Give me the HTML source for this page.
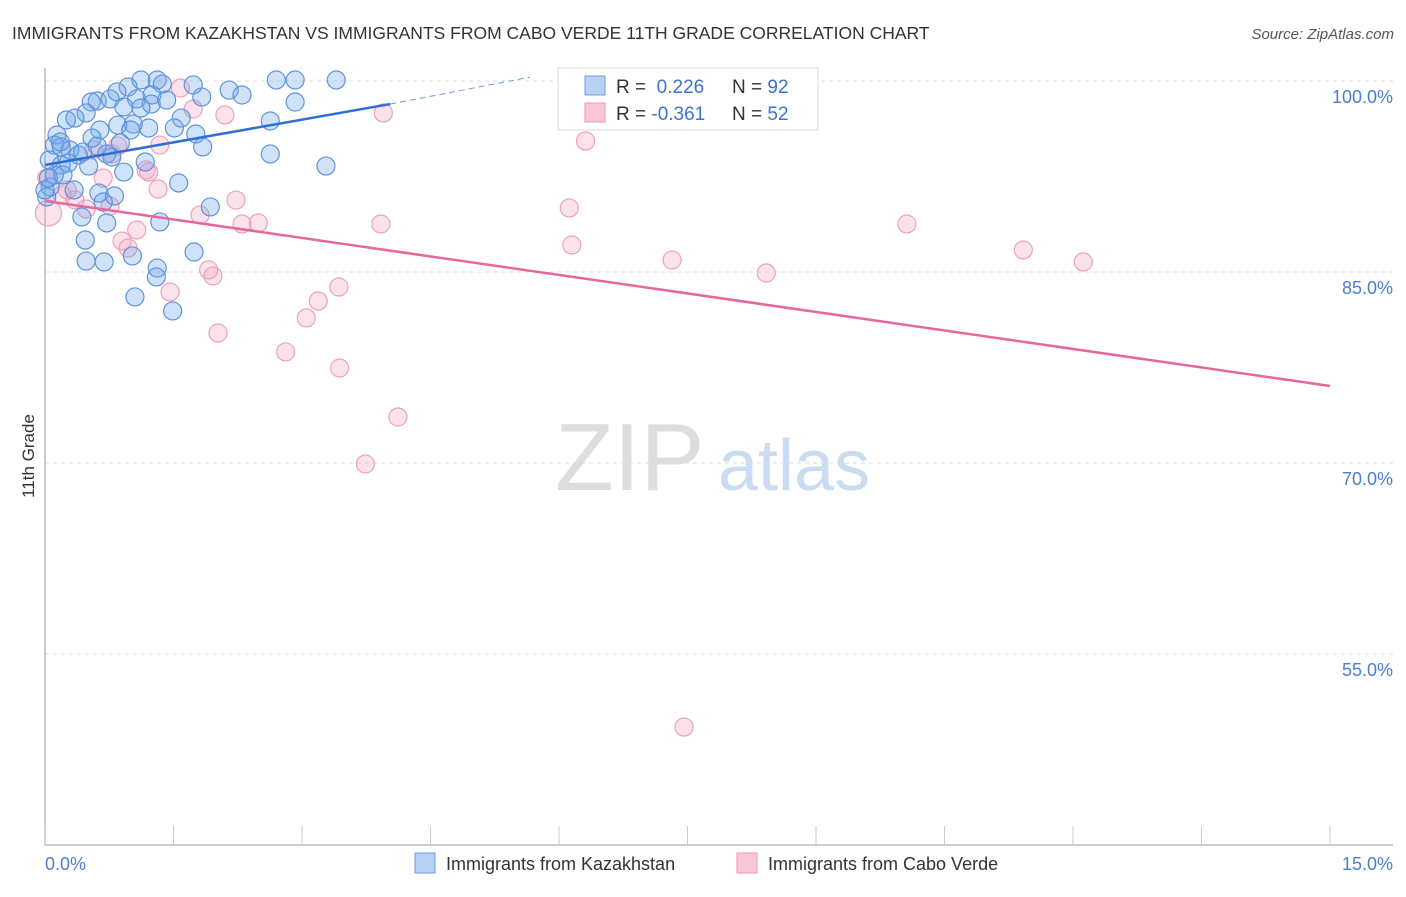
<!DOCTYPE html>
<html><head><meta charset="utf-8"><style>
body{margin:0;background:#fff;font-family:"Liberation Sans",sans-serif;}
svg text{font-family:"Liberation Sans",sans-serif;}
</style></head><body>
<svg id="c" width="1406" height="892">
<text x="12" y="39" font-size="17.5" fill="#333">IMMIGRANTS FROM KAZAKHSTAN VS IMMIGRANTS FROM CABO VERDE 11TH GRADE CORRELATION CHART</text>
<text x="1394" y="39" font-size="15" fill="#555" text-anchor="end" font-style="italic">Source: ZipAtlas.com</text>
<text x="0" y="0" font-size="17" fill="#333" transform="translate(34,456) rotate(-90)" text-anchor="middle">11th Grade</text>
<text x="555" y="490" font-size="96" fill="#ddd" font-family="Liberation Serif">ZIP</text>
<text x="718" y="490" font-size="72" fill="#c9dcf2">atlas</text>
<g id="grid"></g><g id="pts"></g><g id="trend"></g>
<g>
<rect x="558" y="68" width="260" height="62" fill="#fff" stroke="#ddd"/>
<rect x="585" y="76" width="20" height="19" fill="#b6d1f3" stroke="#6d9ee0"/>
<rect x="585" y="103" width="20" height="19" fill="#fbc7d6" stroke="#eb9ab6"/>
<text x="616" y="93" font-size="19" fill="#333">R = <tspan fill="#3b73d1">&#160;0.226</tspan><tspan x="732">N = </tspan><tspan fill="#3b73d1">92</tspan></text>
<text x="616" y="120" font-size="19" fill="#333">R = <tspan fill="#3b73d1">-0.361</tspan><tspan x="732">N = </tspan><tspan fill="#3b73d1">52</tspan></text>
</g>
<g>
<rect x="415" y="853" width="20" height="20" fill="#b6d1f3" stroke="#6d9ee0"/>
<text x="446" y="870" font-size="18" fill="#333">Immigrants from Kazakhstan</text>
<rect x="737" y="853" width="20" height="20" fill="#fbc7d6" stroke="#eb9ab6"/>
<text x="768" y="870" font-size="18" fill="#333">Immigrants from Cabo Verde</text>
</g>
</svg>
<script>
const xTicks=[0,1.5,3,4.5,6,7.5,9,10.5,12,13.5,15];
const yTicks=[100,85,70,55];
const yTickLabels=["100.0%","85.0%","70.0%","55.0%"];
const xEndLabels=["0.0%","15.0%"];
const kazX=[1.12,1.31,2.70,2.92,3.40,1.37,1.73,0.97,0.84,2.15,2.30,1.25,1.83,0.61,0.76,0.54,1.07,1.24,2.92,0.92,1.12,0.48,1.42,1.59,2.63,0.25,0.35,0.85,1.03,0.64,1.00,1.21,1.51,1.76,0.14,0.55,1.84,2.63,3.28,0.11,0.19,0.29,0.39,0.78,1.17,0.19,0.51,0.92,1.56,0.06,0.34,0.63,0.81,0.02,0.68,1.93,0.43,0.72,1.34,0.47,1.74,1.02,0.48,0.69,1.31,1.30,1.05,1.49,0.11,0.05,0.27,0.44,0.88,0.61,0.18,0.72,0.00,0.04,0.21];
const kazY=[100.08,100.08,100.08,100.08,100.08,99.76,99.69,99.53,99.14,99.29,98.90,98.90,98.74,98.43,98.59,98.35,98.59,98.19,98.35,97.96,97.88,97.49,98.51,97.09,96.86,96.94,97.09,96.54,96.62,96.15,96.15,96.31,96.31,95.84,95.76,95.52,94.82,94.27,93.32,94.97,94.82,94.58,94.19,94.03,93.64,93.40,93.32,92.85,91.99,91.68,91.44,91.20,90.97,90.89,90.50,90.11,89.32,88.85,88.93,87.51,86.57,86.26,85.86,85.79,85.31,84.61,83.04,81.94,92.62,93.80,93.56,94.42,95.13,94.89,95.21,94.27,91.44,92.38,92.62];
const cvX=[1.58,1.73,2.10,3.95,6.31,1.34,0.85,0.57,1.18,1.21,0.68,1.32,0.02,0.26,0.48,0.76,1.81,2.23,2.30,2.49,3.92,6.12,6.15,10.06,11.42,12.12,7.32,8.42,1.07,0.90,0.97,1.91,1.96,1.46,3.43,3.19,3.05,2.02,2.81,3.44,4.12,3.74,7.46,0.04,0.78,0.20,0.35];
const cvY=[99.45,97.80,97.33,97.49,95.29,94.97,94.89,94.58,93.01,92.85,92.38,91.52,92.38,91.44,89.95,90.18,89.48,90.65,88.77,88.85,88.77,90.03,87.12,88.77,86.73,85.79,85.94,84.92,88.30,87.43,86.88,85.16,84.69,83.43,83.82,82.72,81.39,80.21,78.72,77.46,73.61,69.92,49.26,89.63,94.27,91.05,90.66];
const kazTrendX=[0,4.03,5.66];
const kazTrendY=[93.40,98.19,100.3];
const cvTrendX=[0,15];
const cvTrendY=[90.58,76.05];
const X0=45,X1=1330,XMAX=15,Y100=81,PXPER=12.733;
const sx=v=>X0+(v/XMAX)*(X1-X0);
const sy=v=>Y100+(100-v)*PXPER;
const NS="http://www.w3.org/2000/svg";
function mk(tag,attrs,parent){const e=document.createElementNS(NS,tag);for(const k in attrs)e.setAttribute(k,attrs[k]);parent.appendChild(e);return e;}
const grid=document.getElementById('grid');
yTicks.forEach((t,i)=>{
 const l=mk('line',{x1:X0,x2:1393,y1:sy(t),y2:sy(t),stroke:'#ddd','stroke-dasharray':'4,4'},grid);
 
 
 const tx=mk('text',{x:1393,y:sy(t)+22,'font-size':18,fill:'#4a7fd0','text-anchor':'end'},grid);
 tx.textContent=yTickLabels[i];
 
 
});
const ax=mk('line',{x1:X0,x2:1393,y1:845,y2:845,stroke:'#bbb','stroke-width':1.5},grid);


const ay=mk('line',{x1:X0,x2:X0,y1:68,y2:845,stroke:'#bbb','stroke-width':1.5},grid);


xTicks.forEach(t=>{
 const l=mk('line',{x1:sx(t),x2:sx(t),y1:826,y2:845,stroke:'#ccc'},grid);
 
 
});
[[0,'start',45],[1,'end',1393]].forEach(([i,a,x])=>{
 const tx=mk('text',{x:x,y:870,'font-size':18,fill:'#4a7fd0','text-anchor':a},grid);
 tx.textContent=xEndLabels[i];
 
 
});
const pts=document.getElementById('pts');
cvX.forEach((v,i)=>{
 const c=mk('circle',{cx:sx(v),cy:sy(cvY[i]),r:i===43?13:9,fill:'rgba(244,160,190,0.3)',stroke:'#eda0bb','stroke-width':1.2},pts);
 
 
});
kazX.forEach((v,i)=>{
 const c=mk('circle',{cx:sx(v),cy:sy(kazY[i]),r:9,fill:'rgba(110,165,232,0.32)',stroke:'#5f93da','stroke-width':1.2},pts);
 
 
});
const tr=document.getElementById('trend');
const b1=mk('line',{x1:sx(kazTrendX[0]),y1:sy(kazTrendY[0]),x2:sx(kazTrendX[1]),y2:sy(kazTrendY[1]),stroke:'#2f6fd4','stroke-width':2.5},tr);


const b2=mk('line',{x1:sx(kazTrendX[1]),y1:sy(kazTrendY[1]),x2:sx(kazTrendX[2]),y2:sy(kazTrendY[2]),stroke:'#6d9ee0','stroke-width':1,'stroke-dasharray':'6,4'},tr);


const p1=mk('line',{x1:sx(cvTrendX[0]),y1:sy(cvTrendY[0]),x2:sx(cvTrendX[1]),y2:sy(cvTrendY[1]),stroke:'#e8679a','stroke-width':2.5},tr);


</script>
</body></html>
